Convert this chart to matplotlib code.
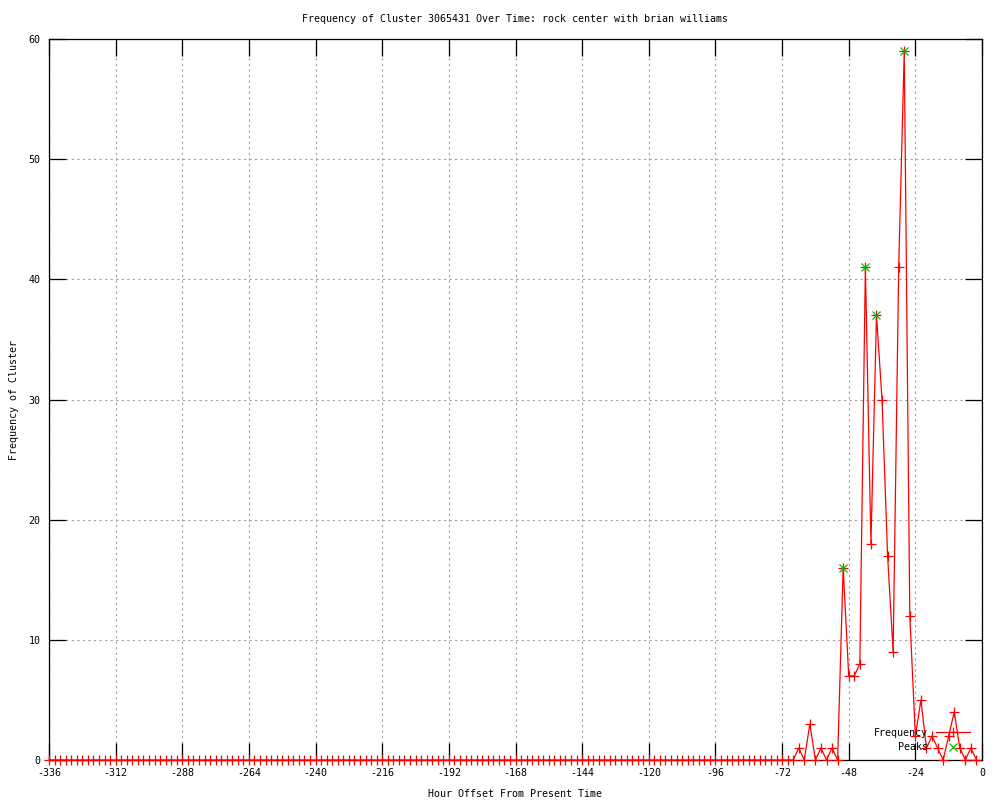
import matplotlib
matplotlib.use("Agg")
import matplotlib.pyplot as plt
import numpy as np

plt.rcParams['font.family'] = ['DejaVu Sans Mono', 'DejaVu Sans']
plt.rcParams['axes.unicode_minus'] = False

# Hour offsets (every 2 hours from -336 to -2)
hours = list(range(-336, 0, 2))
nonzero = {
    -66: 1, -62: 3, -58: 1, -54: 1, -50: 16, -48: 7, -46: 7, -44: 8,
    -42: 41, -40: 18, -38: 37, -36: 30, -34: 17, -32: 9, -30: 41, -28: 59,
    -26: 12, -24: 2, -22: 5, -20: 1, -18: 2, -16: 1, -12: 2, -10: 4,
    -8: 1, -4: 1,
}
frequency = [nonzero.get(h, 0) for h in hours]

peak_hours = [-50, -42, -38, -28]
peak_values = [16, 41, 37, 59]

xticks = list(range(-336, 1, 24))
yticks = list(range(0, 61, 10))

title = "Frequency of Cluster 3065431 Over Time: rock center with brian williams"
xlabel = "Hour Offset From Present Time"
ylabel = "Frequency of Cluster"

fs = 7.2
fig = plt.figure(figsize=(10, 8), dpi=100)
ax = fig.add_axes([0.049, 0.05, 0.933, 0.90125])

ax.plot(hours, frequency, color='red', lw=0.9, marker='+', markersize=7,
        markeredgewidth=0.9, clip_on=False, label='Frequency', zorder=3)
ax.plot(peak_hours, peak_values, linestyle='none', color='#00c000', marker='x',
        markersize=5.5, markeredgewidth=0.9, clip_on=False, label='Peaks', zorder=4)

ax.set_xlim(-336, 0)
ax.set_ylim(0, 60)
ax.set_xticks(xticks)
ax.set_yticks(yticks)
ax.grid(True, color='#a0a0a0', linestyle=(0, (2, 3)), lw=0.8)
ax.tick_params(direction='in', length=12, width=0.9, top=True, right=True,
               labelsize=fs, pad=6, colors='black')
for s in ax.spines.values():
    s.set_linewidth(0.9)

ax.set_title(title, fontsize=fs, pad=12)
ax.set_xlabel(xlabel, fontsize=fs, labelpad=8)
ax.set_ylabel(ylabel, fontsize=fs, labelpad=7)

leg = ax.legend(loc='lower right', bbox_to_anchor=(0.987, 0.011), frameon=False,
                fontsize=fs, markerfirst=False, numpoints=1, handlelength=3.4,
                borderpad=0, borderaxespad=0, labelspacing=0.45, handletextpad=0.8)
for t in leg.get_texts():
    t.set_ha('right')

fig.savefig('out.png', dpi=100)
